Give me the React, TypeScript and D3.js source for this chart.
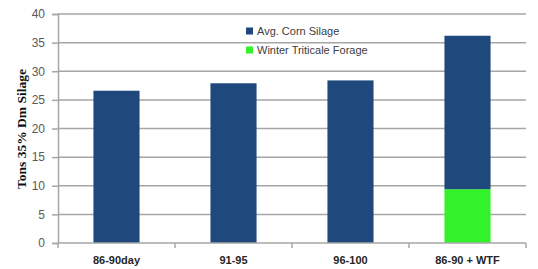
import React, { useEffect, useRef } from 'react';
import * as d3 from 'd3';

// chart data
const categories = ['86-90day', '91-95', '96-100', '86-90 + WTF'];
const cornSilage = [26.6, 27.9, 28.4, 26.8];
const triticaleForage = [0, 0, 0, 9.4];
const yTicks = [0, 5, 10, 15, 20, 25, 30, 35, 40];
const seriesNames = ['Avg. Corn Silage', 'Winter Triticale Forage'];
const seriesColors = ['#1f497d', '#33f22a'];

function App() {
    const ref = useRef<SVGSVGElement>(null);

    useEffect(() => {
        const svg = d3.select(ref.current);
        svg.selectAll('*').remove();

        const w = 538, h = 269;
        const left = 58, right = 526, top = 14, bottom = 243;

        svg.attr('width', w).attr('height', h);

        const x = d3.scaleBand<string>()
            .domain(categories)
            .range([left, right])
            .paddingInner(0.606)
            .paddingOuter(0.303);

        const y = d3.scaleLinear().domain([0, 40]).range([bottom, top]);

        // gridlines
        svg.append('g')
            .selectAll('line')
            .data(yTicks.filter(d => d > 0))
            .enter()
            .append('line')
            .attr('x1', left)
            .attr('x2', right)
            .attr('y1', d => y(d))
            .attr('y2', d => y(d))
            .attr('stroke', '#a6a6a6')
            .attr('stroke-width', 1.5);

        // y axis
        const yAxis = svg.append('g')
            .attr('transform', `translate(${left},0)`)
            .call(d3.axisLeft(y).tickValues(yTicks).tickSize(6).tickPadding(7));
        yAxis.select('.domain').attr('stroke', '#a6a6a6').attr('stroke-width', 1.5);
        yAxis.selectAll('.tick line').attr('stroke', '#a6a6a6').attr('stroke-width', 1.5);
        yAxis.selectAll('.tick text')
            .attr('fill', '#595959')
            .attr('font-family', 'Liberation Sans, Arial, sans-serif')
            .attr('font-size', 12);

        // stacked bars
        const stacked = categories.map((c, i) => ({ c, a: cornSilage[i], b: triticaleForage[i] }));
        const series = d3.stack<any>().keys(['b', 'a'])(stacked);
        const colorFor: Record<string, string> = { a: seriesColors[0], b: seriesColors[1] };

        series.forEach(s => {
            svg.append('g')
                .selectAll('rect')
                .data(s.filter(d => d[1] - d[0] > 0))
                .enter()
                .append('rect')
                .attr('x', d => x(d.data.c) as number)
                .attr('y', d => y(d[1]))
                .attr('width', x.bandwidth())
                .attr('height', d => y(d[0]) - y(d[1]))
                .attr('fill', colorFor[s.key]);
        });

        // x axis
        const step = x.step();
        const boundaries = d3.range(categories.length + 1).map(i => left + i * step);
        svg.append('line')
            .attr('x1', left).attr('x2', right)
            .attr('y1', bottom).attr('y2', bottom)
            .attr('stroke', '#a6a6a6').attr('stroke-width', 1.5);
        svg.append('g')
            .selectAll('line')
            .data(boundaries)
            .enter()
            .append('line')
            .attr('x1', d => d).attr('x2', d => d)
            .attr('y1', bottom).attr('y2', bottom + 5)
            .attr('stroke', '#a6a6a6').attr('stroke-width', 1.5);
        svg.append('g')
            .selectAll('text')
            .data(categories)
            .enter()
            .append('text')
            .attr('x', d => (x(d) as number) + x.bandwidth() / 2)
            .attr('y', 264)
            .attr('text-anchor', 'middle')
            .attr('font-family', 'Liberation Sans, Arial, sans-serif')
            .attr('font-weight', 'bold')
            .attr('font-size', 11)
            .attr('fill', '#262626')
            .text(d => d);

        // y title
        svg.append('text')
            .attr('transform', 'translate(26,129) rotate(-90)')
            .attr('text-anchor', 'middle')
            .attr('font-family', 'Liberation Serif, Times New Roman, serif')
            .attr('font-weight', 'bold')
            .attr('font-size', 13.5)
            .attr('fill', '#111')
            .text('Tons 35% Dm Silage');

        // legend
        const legend = svg.append('g').attr('transform', 'translate(246,31)');
        seriesNames.forEach((name, i) => {
            const g = legend.append('g').attr('transform', `translate(0,${i * 19})`);
            g.append('rect')
                .attr('x', 0).attr('y', -3.5)
                .attr('width', 7).attr('height', 7)
                .attr('fill', seriesColors[i]);
            g.append('text')
                .attr('x', 11).attr('y', 4)
                .attr('font-family', 'Liberation Sans, Arial, sans-serif')
                .attr('font-size', 11)
                .attr('fill', '#404040')
                .text(name);
        });
    }, []);

    return <svg ref={ref} style={{ position: 'absolute', left: 0, top: 0 }}></svg>;
}

export default App;
